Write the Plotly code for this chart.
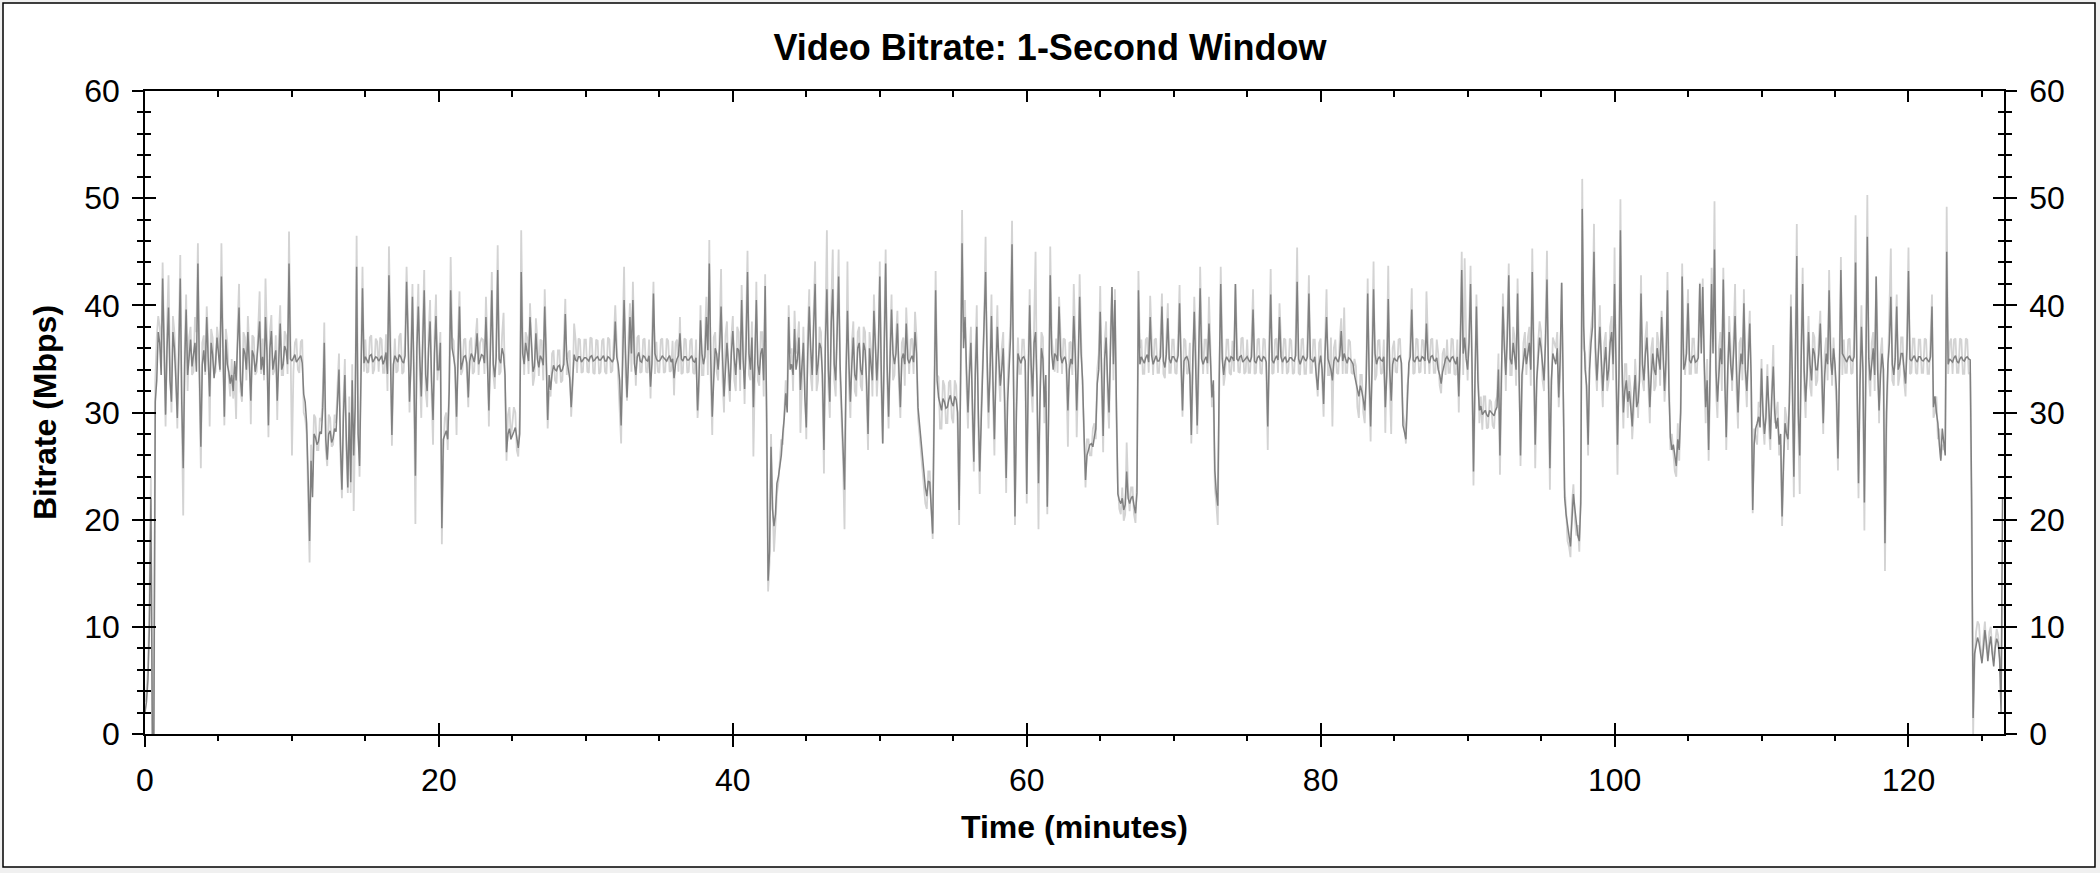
import numpy as np
import plotly.graph_objects as go

# ---------------- data (Mbps) ----------------
# main samples every 0.2 min starting at each chunk start; "mid" samples sit 0.1 min after each main sample
sample_step_min = 0.2
chunk_starts = [0, 10, 20, 30, 40, 50, 60, 70, 80, 90, 100, 110, 120]

dark_m000 = [2, 5, 22, 0, 33, 36.5, 42.5, 29.8, 39.8, 31.0, 36.0, 29.5, 42.5, 24.8, 39.6,
             35.5, 34.3, 36.5, 43.9, 26.8, 35.8, 38.9, 31.5, 35.4, 34.6, 35.2, 42.7, 29.6, 34.5, 32.7,
             32.0, 33.0, 39.8, 31.5, 35.5, 37.5, 31.1, 35.3, 34.8, 38.5, 35.2, 38.9, 28.8, 37.6, 35.0,
             31.1, 38.3, 34.5, 35.8, 43.9]
dark_mid_m000 = [3, 10, 0, 31, 37.5, 33.5, 34.0, 36.0, 33.0, 37.5, 33.0, 35.5, 31.0, 34.5, 33.5,
                 36.8, 35.2, 33.8, 34.0, 34.5, 33.8, 35.0, 36.5, 33.2, 37.0, 34.0, 35.5, 36.8, 33.8, 33.5,
                 34.8, 36.5, 33.0, 36.0, 34.0, 34.5, 35.8, 33.8, 36.5, 34.0, 33.5, 35.5, 36.0, 34.0, 35.8,
                 35.5, 34.0, 36.2, 34.5, 35.0]
light_m000 = [3, 6, 24, 0, 37, 38.0, 44.0, 28.7, 42.8, 30.0, 37.5, 28.5, 44.7, 20.4, 41.0,
              37.0, 33.5, 38.9, 45.8, 24.8, 37.2, 39.9, 28.7, 37.0, 33.8, 36.8, 45.8, 28.8, 36.5, 31.5,
              31.3, 29.4, 42.0, 31.0, 37.0, 39.0, 28.9, 37.0, 33.8, 41.3, 36.9, 42.5, 27.7, 39.1, 33.9,
              29.3, 40.0, 33.5, 37.2, 46.9]
light_mid_m000 = [4, 12, 0, 33, 39, 35.5, 36.0, 38.0, 34.5, 39.0, 34.5, 37.0, 30.0, 36.0, 32.0,
                  38.0, 33.8, 37.5, 33.0, 36.5, 33.5, 36.8, 37.8, 33.6, 38.0, 33.8, 37.0, 37.8, 33.2, 35.0,
                  33.5, 38.0, 32.0, 37.5, 33.0, 36.0, 37.2, 33.5, 37.8, 33.6, 33.0, 37.0, 37.5, 33.5, 37.2,
                  36.8, 33.5, 37.6, 33.6, 36.5]

dark_m010 = [34.8, 35.4, 34.9, 35.3, 31.7, 29.0, 18.0, 22.1, 27.7, 27.3, 28.0, 36.5, 25.6, 28.3, 27.6,
             28.2, 34.0, 22.8, 33.5, 23.0, 23.5, 26.0, 43.6, 25.0, 41.6, 35.2, 34.6, 35.4, 34.9, 35.1,
             35.0, 34.5, 35.6, 42.8, 27.9, 35.3, 34.7, 35.2, 34.6, 42.2, 31.0, 40.8, 24.1, 39.9, 31.5,
             41.4, 32.0, 38.5, 29.3, 39.0]
dark_mid_m010 = [35.1, 34.7, 35.2, 34.6, 31.0, 24.0, 25.5, 28.0, 27.0, 28.2, 30.5, 27.5, 28.0, 27.2, 28.5,
                 31.0, 27.0, 29.5, 27.5, 30.0, 33.0, 30.5, 28.0, 33.5, 34.6, 34.9, 35.3, 34.7, 35.2, 34.8,
                 35.3, 34.9, 33.6, 36.0, 34.5, 35.0, 35.4, 34.8, 35.3, 37.0, 34.5, 33.5, 36.0, 35.0, 36.5,
                 33.5, 36.0, 33.0, 35.5, 34.0]
light_m010 = [26.0, 36.5, 34.0, 36.6, 30.0, 28.0, 16.0, 24.0, 29.5, 26.5, 29.2, 38.4, 25.0, 29.5, 27.0,
              29.0, 35.5, 22.0, 35.0, 22.5, 22.5, 20.8, 46.5, 24.0, 43.6, 36.8, 33.8, 37.2, 34.0, 36.6,
              37.0, 33.7, 37.3, 45.5, 26.9, 36.9, 33.9, 37.4, 33.8, 43.6, 30.0, 42.0, 19.6, 42.0, 29.5,
              43.3, 30.5, 40.5, 27.0, 41.0]
light_mid_m010 = [33.8, 36.9, 33.7, 36.8, 29.5, 22.0, 27.0, 29.8, 26.5, 29.5, 32.0, 26.5, 29.8, 26.8, 29.8,
                  32.5, 26.0, 31.0, 26.5, 31.5, 34.5, 29.0, 30.0, 35.0, 33.8, 33.7, 37.0, 33.6, 36.9, 33.8,
                  36.8, 33.7, 32.0, 37.5, 33.5, 33.7, 37.1, 33.6, 37.0, 38.5, 36.0, 32.5, 37.5, 33.5, 38.0,
                  32.0, 37.5, 31.8, 37.0, 33.0]

dark_m020 = [34.0, 19.2, 28.0, 27.5, 41.4, 35.2, 29.6, 39.9, 34.8, 35.3, 31.4, 35.5, 34.7, 37.4, 34.9,
             35.3, 38.9, 30.2, 41.4, 33.3, 43.3, 34.6, 35.4, 26.3, 28.5, 27.8, 28.6, 26.7, 43.1, 34.5,
             35.5, 38.9, 33.8, 37.4, 34.2, 35.0, 39.9, 29.3, 32.1, 34.4, 33.9, 34.4, 34.0, 39.2, 34.1,
             30.5, 35.4, 34.8, 35.2, 34.9]
dark_mid_m020 = [36.5, 27.5, 28.3, 32.0, 36.0, 34.2, 35.5, 34.0, 35.2, 34.6, 34.8, 35.2, 35.6, 34.5, 35.4,
                 34.6, 34.8, 35.5, 34.5, 35.2, 35.0, 36.0, 33.5, 28.0, 27.5, 28.2, 27.4, 28.0, 35.5, 36.5,
                 34.8, 35.6, 34.3, 35.0, 35.3, 34.4, 35.0, 33.5, 33.6, 34.0, 34.3, 33.8, 34.5, 35.0, 33.2,
                 33.5, 34.9, 35.2, 34.7, 35.1]
light_m020 = [35.5, 17.7, 29.5, 26.5, 44.5, 36.7, 27.9, 41.3, 33.9, 36.9, 30.5, 37.0, 33.8, 38.8, 36.5,
              36.8, 40.8, 28.7, 43.1, 32.2, 45.6, 33.8, 39.3, 25.5, 30.5, 29.5, 30.0, 25.9, 47.0, 33.5,
              37.0, 40.2, 32.5, 38.8, 33.4, 36.7, 41.5, 28.5, 31.5, 35.8, 32.7, 35.8, 33.0, 40.6, 35.5,
              29.6, 38.3, 33.7, 36.8, 33.8]
light_mid_m020 = [37.5, 26.5, 30.0, 33.0, 37.0, 33.6, 37.0, 33.5, 36.8, 33.7, 36.6, 33.6, 37.0, 33.5, 36.9,
                  33.6, 36.5, 37.0, 33.6, 37.0, 33.5, 37.2, 32.5, 29.8, 27.5, 30.5, 26.5, 29.8, 37.0, 37.5,
                  33.6, 37.0, 33.4, 36.8, 36.8, 33.0, 36.5, 32.0, 35.5, 33.0, 35.8, 32.8, 36.5, 33.5, 35.8,
                  32.5, 36.8, 36.9, 33.7, 36.8]

dark_m030 = [35.1, 34.8, 35.3, 34.9, 35.2, 34.9, 35.3, 34.8, 35.1, 34.7, 38.5, 34.5, 28.8, 40.5, 31.4,
             38.9, 40.5, 33.5, 35.6, 34.7, 35.2, 34.8, 32.4, 41.1, 35.0, 34.8, 35.3, 34.9, 35.1, 34.7,
             33.2, 35.0, 37.4, 34.8, 35.2, 34.9, 35.3, 34.7, 30.2, 38.6, 34.5, 38.9, 43.9, 29.6, 36.0,
             34.0, 39.9, 31.5, 36.5, 32.0]
dark_mid_m030 = [34.9, 35.2, 34.8, 35.1, 34.9, 35.1, 34.8, 35.2, 34.9, 35.0, 35.2, 33.0, 34.5, 35.5, 34.8,
                 35.5, 34.6, 35.2, 34.8, 35.3, 34.9, 35.3, 34.6, 35.5, 34.8, 35.0, 35.1, 34.8, 35.3, 35.0,
                 34.5, 35.3, 35.0, 35.2, 34.9, 35.1, 34.8, 35.1, 33.5, 35.5, 35.2, 35.8, 35.0, 33.0, 35.5,
                 36.0, 35.2, 34.0, 34.5, 35.5]
light_m030 = [36.8, 33.7, 36.9, 33.6, 36.7, 33.8, 36.9, 33.6, 36.8, 33.9, 40.0, 33.5, 27.1, 43.6, 31.1,
              40.2, 42.2, 32.5, 37.2, 33.8, 36.9, 33.7, 31.3, 42.2, 36.6, 33.7, 36.9, 33.8, 36.7, 33.9,
              31.6, 36.8, 38.9, 33.7, 36.8, 33.8, 36.9, 33.6, 29.5, 40.0, 33.5, 40.8, 46.1, 27.9, 37.5,
              33.0, 43.4, 30.0, 38.5, 31.0]
light_mid_m030 = [33.8, 37.0, 33.7, 36.8, 33.6, 36.7, 33.8, 37.0, 33.7, 36.8, 36.5, 31.0, 37.0, 33.5, 37.0,
                  33.8, 36.5, 37.0, 33.7, 36.8, 33.8, 36.8, 37.0, 33.6, 33.8, 36.8, 33.7, 36.9, 33.8, 36.7,
                  36.5, 33.8, 33.6, 36.9, 33.7, 36.7, 33.7, 36.8, 32.0, 33.5, 37.0, 33.5, 33.0, 37.0, 33.8,
                  37.5, 33.0, 37.2, 33.0, 37.0]

dark_m040 = [37.6, 33.5, 35.8, 40.5, 32.2, 43.1, 34.0, 30.5, 40.5, 33.5, 36.0, 41.8, 14.3, 26.8, 19.4,
             23.4, 24.9, 28.0, 31.8, 38.9, 34.5, 37.8, 35.0, 32.1, 36.5, 28.6, 39.9, 33.5, 42.0, 34.5,
             36.0, 26.5, 41.5, 31.0, 41.5, 33.0, 42.7, 30.5, 22.8, 39.5, 31.0, 37.0, 33.0, 36.5, 33.5,
             35.8, 28.0, 34.5, 39.5, 33.0]
dark_mid_m040 = [35.0, 36.0, 34.0, 35.0, 36.0, 35.5, 37.0, 35.0, 34.5, 35.5, 33.0, 30.0, 17.0, 21.0, 20.5,
                 24.0, 26.0, 29.5, 30.0, 34.0, 33.5, 34.0, 37.0, 34.0, 31.5, 35.5, 36.0, 38.0, 33.5, 36.5,
                 33.5, 36.5, 34.0, 38.5, 34.5, 37.5, 34.5, 27.0, 33.5, 34.5, 34.5, 33.5, 36.0, 34.0, 36.5,
                 33.0, 36.0, 33.0, 35.5, 36.0]
light_m040 = [39.0, 32.0, 37.5, 41.9, 30.8, 45.1, 33.0, 25.9, 42.2, 32.5, 37.5, 42.9, 13.3, 28.0, 17.0,
              22.4, 26.0, 27.0, 33.0, 40.0, 36.0, 39.5, 36.5, 28.1, 38.0, 27.5, 41.5, 32.0, 44.1, 33.0,
              37.5, 24.3, 47.0, 29.5, 45.2, 31.5, 45.2, 29.0, 19.1, 44.1, 29.5, 38.5, 31.5, 38.0, 32.0,
              37.5, 26.5, 36.0, 41.0, 31.5]
light_mid_m040 = [33.0, 38.0, 32.0, 37.0, 38.0, 33.5, 38.5, 33.5, 33.0, 37.5, 31.5, 28.0, 16.0, 22.0, 19.5,
                  23.5, 27.5, 31.0, 31.5, 35.5, 32.0, 35.5, 38.5, 32.5, 33.0, 37.5, 33.5, 39.5, 32.0, 38.0,
                  32.0, 38.0, 32.5, 40.0, 33.0, 39.0, 33.0, 25.5, 35.5, 32.5, 36.5, 32.0, 37.5, 32.5, 38.0,
                  31.5, 37.5, 31.5, 37.0, 34.5]

dark_m050 = [42.7, 27.1, 43.9, 29.6, 39.6, 34.5, 38.3, 30.5, 35.5, 38.3, 34.6, 35.3, 37.5, 30.5, 27.5,
             24.2, 22.2, 23.5, 18.7, 41.4, 31.4, 30.2, 31.0, 30.5, 31.6, 30.6, 31.2, 20.9, 45.8, 38.9,
             30.0, 36.5, 25.4, 38.0, 24.5, 34.0, 43.1, 30.0, 39.0, 27.5, 38.0, 32.5, 36.0, 23.9, 35.0,
             45.7, 20.3, 35.5, 34.6, 35.2]
dark_mid_m050 = [34.0, 35.5, 34.5, 35.0, 35.5, 35.5, 34.0, 35.0, 34.5, 35.0, 35.0, 34.7, 35.5, 29.0, 25.5,
                 23.0, 23.6, 21.0, 30.0, 33.0, 30.8, 31.3, 30.4, 31.2, 30.9, 31.5, 30.0, 33.0, 36.0, 34.0,
                 33.5, 31.0, 33.5, 30.5, 29.0, 37.0, 35.5, 33.5, 33.0, 33.5, 35.0, 34.0, 31.0, 31.0, 37.0,
                 33.0, 30.0, 35.0, 35.1, 34.8]
light_m050 = [44.1, 27.1, 45.2, 28.5, 41.0, 33.5, 39.5, 29.5, 37.0, 39.8, 33.6, 36.9, 39.4, 29.5, 26.5,
              23.0, 21.0, 24.5, 18.2, 43.2, 33.3, 28.5, 32.5, 29.0, 33.0, 29.0, 32.5, 19.5, 48.9, 40.5,
              28.5, 38.0, 24.5, 40.0, 22.4, 35.5, 46.4, 28.5, 41.0, 26.0, 40.0, 31.0, 37.5, 22.5, 36.5,
              47.9, 19.5, 37.0, 33.6, 36.8]
light_mid_m050 = [32.5, 37.5, 33.0, 36.5, 33.0, 37.0, 32.5, 36.5, 32.5, 36.5, 36.8, 33.6, 37.0, 28.0, 24.5,
                  21.5, 24.5, 20.5, 32.0, 33.5, 28.5, 33.0, 29.0, 32.8, 29.5, 33.0, 28.5, 35.0, 37.5, 32.5,
                  35.0, 29.5, 35.0, 29.0, 30.5, 38.5, 33.5, 35.0, 31.5, 35.0, 33.5, 36.0, 29.5, 33.0, 38.5,
                  31.5, 32.0, 33.6, 36.8, 33.7]

dark_m060 = [22.4, 40.0, 31.5, 37.5, 23.4, 36.0, 30.5, 21.2, 42.8, 34.0, 35.3, 39.9, 34.6, 35.2, 30.2,
             35.0, 39.0, 30.2, 40.8, 33.0, 23.7, 26.5, 27.1, 27.7, 32.7, 39.4, 27.8, 37.0, 30.0, 41.7,
             40.5, 22.4, 21.5, 20.9, 24.5, 21.5, 22.2, 20.6, 41.4, 35.2, 34.6, 35.4, 38.9, 34.5, 35.3,
             34.8, 39.9, 34.2, 38.8, 34.6]
dark_mid_m060 = [33.0, 34.5, 36.5, 32.5, 31.0, 35.0, 33.5, 31.0, 35.5, 35.5, 34.8, 35.3, 35.0, 34.5, 34.0,
                 34.5, 35.5, 34.5, 35.5, 28.0, 26.0, 27.0, 26.8, 28.5, 34.0, 33.5, 35.0, 33.0, 36.0, 34.5,
                 31.0, 21.8, 22.0, 21.4, 22.0, 22.0, 21.3, 22.5, 34.5, 34.9, 35.1, 34.7, 35.3, 34.9, 34.8,
                 35.2, 34.8, 35.4, 35.0, 35.2]
light_m060 = [21.5, 41.5, 30.0, 45.0, 19.1, 37.5, 29.0, 20.5, 45.5, 35.5, 36.9, 40.8, 33.6, 36.8, 26.8,
              36.6, 42.0, 27.7, 42.9, 32.0, 23.0, 27.5, 26.0, 29.0, 34.0, 41.8, 26.3, 38.5, 28.5, 41.7,
              41.5, 23.3, 20.5, 19.9, 27.2, 20.8, 23.0, 19.7, 43.2, 36.8, 33.6, 37.0, 40.9, 33.5, 36.9,
              33.7, 41.1, 33.2, 40.2, 33.7]
light_mid_m060 = [34.5, 32.5, 38.0, 31.0, 32.5, 37.0, 32.0, 32.5, 37.0, 33.8, 33.7, 36.8, 36.9, 33.6, 36.5,
                  33.5, 37.0, 33.5, 37.0, 27.0, 27.5, 26.0, 28.5, 27.5, 35.5, 32.0, 36.5, 31.5, 37.5, 33.0,
                  29.5, 21.0, 23.0, 20.5, 23.0, 23.0, 20.5, 23.5, 36.0, 33.6, 36.8, 33.7, 36.9, 36.8, 33.7,
                  36.9, 33.6, 36.8, 33.7, 36.8]

dark_m070 = [35.2, 34.7, 40.2, 30.2, 35.1, 34.8, 27.9, 39.4, 28.8, 41.6, 34.5, 35.2, 38.3, 31.4, 24.6,
             21.3, 42.0, 33.5, 35.2, 34.7, 35.1, 42.0, 34.8, 35.3, 34.9, 35.2, 34.7, 39.6, 34.6, 35.3,
             34.8, 35.1, 28.7, 41.0, 34.6, 35.3, 38.9, 34.7, 35.2, 34.8, 35.1, 34.8, 42.2, 34.5, 35.3,
             34.8, 41.1, 34.9, 35.2, 32.1]
dark_mid_m070 = [34.9, 35.3, 35.0, 34.8, 35.2, 33.5, 35.0, 34.0, 35.5, 35.0, 34.9, 34.6, 35.0, 33.0, 22.5,
                 33.5, 35.0, 34.8, 34.9, 35.2, 34.8, 35.0, 35.2, 34.7, 35.1, 34.9, 35.2, 34.8, 35.1, 34.9,
                 35.2, 34.7, 35.3, 34.9, 35.0, 34.9, 35.2, 35.0, 34.7, 35.1, 34.9, 35.3, 35.0, 34.9, 35.0,
                 35.2, 35.0, 34.7, 33.5, 34.5]
light_m070 = [36.8, 33.6, 41.9, 29.6, 36.7, 33.7, 27.1, 40.8, 28.0, 43.6, 33.6, 36.8, 40.8, 30.5, 23.0,
              19.5, 43.6, 32.5, 36.8, 33.7, 36.7, 42.0, 33.8, 36.9, 33.6, 36.8, 33.7, 41.5, 33.7, 36.9,
              33.6, 36.8, 26.5, 43.4, 33.7, 36.9, 40.2, 33.6, 36.8, 33.8, 36.7, 33.7, 45.4, 33.5, 36.9,
              33.6, 42.8, 33.7, 36.8, 31.5]
light_mid_m070 = [33.7, 37.0, 33.8, 36.9, 33.6, 36.5, 33.5, 36.5, 33.5, 37.0, 36.8, 33.6, 36.0, 32.0, 21.5,
                  32.0, 36.9, 33.6, 36.8, 33.5, 33.8, 36.9, 33.7, 37.0, 33.8, 33.7, 36.9, 33.6, 36.8, 33.7,
                  36.9, 33.7, 37.0, 33.6, 36.8, 33.7, 36.8, 36.9, 33.6, 36.9, 33.6, 37.0, 33.7, 36.8, 33.6,
                  36.9, 33.7, 36.8, 33.5, 36.5]

dark_m080 = [35.3, 30.8, 38.9, 34.5, 33.0, 35.2, 34.7, 37.6, 35.5, 34.6, 35.0, 34.5, 32.7, 31.5, 32.0,
             30.2, 41.1, 28.7, 41.5, 34.5, 35.2, 34.8, 30.5, 40.6, 31.1, 35.1, 34.8, 35.3, 28.8, 27.5,
             34.6, 39.6, 34.7, 35.2, 34.8, 35.1, 38.3, 34.6, 35.3, 34.8, 34.0, 32.7, 34.5, 35.2, 34.7,
             35.2, 34.5, 31.5, 43.3, 37.0]
dark_mid_m080 = [34.0, 35.5, 35.0, 34.0, 34.8, 34.9, 35.3, 34.8, 35.0, 35.1, 34.8, 33.5, 32.0, 32.5, 31.2,
                 33.0, 33.5, 34.0, 35.5, 35.0, 34.9, 35.2, 33.5, 34.0, 34.5, 34.9, 35.2, 34.6, 28.2, 31.0,
                 35.2, 34.9, 35.1, 34.8, 35.2, 34.8, 35.0, 35.2, 34.9, 35.1, 33.5, 33.8, 35.0, 34.9, 35.1,
                 34.8, 35.2, 36.0, 35.5, 35.0]
light_m080 = [36.9, 29.6, 41.5, 33.5, 28.7, 36.8, 33.6, 38.8, 39.8, 33.7, 36.6, 33.6, 34.3, 29.5, 33.5,
              29.0, 42.5, 27.3, 44.1, 33.5, 36.8, 33.7, 28.1, 43.7, 28.0, 36.7, 33.7, 36.9, 30.0, 27.1,
              33.6, 41.6, 33.7, 36.8, 33.8, 36.7, 41.3, 33.6, 36.9, 33.7, 35.5, 31.8, 36.0, 36.8, 33.7,
              36.8, 33.5, 30.0, 45.0, 44.4]
light_mid_m080 = [33.0, 36.5, 33.5, 37.0, 36.0, 33.7, 36.9, 33.6, 33.7, 36.8, 33.7, 35.0, 30.5, 33.5, 30.0,
                  33.5, 32.0, 36.0, 33.0, 36.7, 33.6, 36.8, 35.0, 32.5, 36.0, 33.8, 36.8, 33.6, 29.0, 32.5,
                  36.8, 33.6, 36.9, 33.7, 36.8, 33.6, 36.7, 36.8, 33.7, 36.8, 32.5, 35.5, 33.5, 33.7, 36.9,
                  33.6, 36.8, 37.0, 33.5, 37.0]

dark_m090 = [34.0, 42.0, 24.5, 39.9, 30.2, 29.8, 30.2, 29.6, 30.0, 29.7, 30.5, 26.0, 39.9, 33.5, 42.8,
             34.5, 35.5, 41.1, 26.0, 35.0, 34.5, 36.5, 43.1, 27.0, 35.0, 36.0, 33.0, 42.4, 24.8, 35.5,
             34.5, 31.4, 42.1, 22.1, 19.5, 17.5, 22.4, 19.4, 18.0, 49.0, 34.0, 27.0, 36.5, 45.0, 33.0,
             38.0, 32.0, 36.1, 34.0, 37.5]
dark_mid_m090 = [36.5, 34.5, 33.0, 33.0, 30.6, 30.0, 29.8, 30.2, 29.9, 30.2, 34.0, 33.5, 36.0, 37.0, 35.0,
                 36.5, 34.0, 34.5, 33.5, 36.0, 35.5, 34.0, 35.0, 33.0, 37.0, 34.5, 36.5, 34.0, 33.0, 35.0,
                 36.0, 35.0, 33.0, 20.5, 18.5, 20.0, 21.0, 18.5, 21.5, 38.0, 32.5, 34.0, 38.0, 36.0, 35.5,
                 35.0, 34.5, 33.0, 36.5, 34.5]
light_m090 = [33.0, 43.7, 23.2, 41.0, 29.0, 28.4, 31.5, 28.6, 31.0, 28.5, 31.5, 24.2, 41.1, 32.0, 43.9,
              33.5, 37.0, 42.5, 25.0, 36.5, 33.5, 38.0, 45.3, 24.8, 36.5, 37.5, 32.0, 45.1, 22.8, 37.0,
              36.0, 30.5, 42.1, 23.0, 18.0, 16.5, 23.3, 18.5, 17.0, 51.8, 35.5, 26.0, 38.0, 47.6, 32.0,
              40.0, 30.5, 37.5, 33.0, 39.0]
light_mid_m090 = [37.5, 33.0, 32.0, 35.0, 31.5, 31.5, 28.5, 31.2, 28.8, 31.0, 35.5, 32.0, 37.5, 38.5, 33.5,
                  38.0, 32.5, 36.0, 32.0, 37.5, 37.0, 32.5, 36.5, 32.0, 38.5, 33.0, 38.0, 32.5, 32.0, 36.5,
                  37.5, 33.5, 32.0, 21.0, 17.5, 21.5, 20.0, 19.5, 22.5, 36.0, 31.0, 36.0, 39.5, 34.5, 37.0,
                  33.5, 36.5, 32.0, 38.0, 33.0]

dark_m100 = [42.0, 27.0, 47.0, 30.0, 33.0, 32.0, 28.7, 33.5, 31.0, 41.1, 33.0, 37.0, 30.5, 35.5, 33.5,
             35.0, 38.9, 32.0, 41.4, 27.7, 27.0, 25.0, 26.5, 42.7, 34.5, 40.2, 34.6, 35.3, 34.8, 42.0,
             41.7, 30.5, 26.5, 42.0, 45.2, 31.0, 36.0, 42.4, 27.7, 37.5, 33.0, 39.0, 30.0, 35.5, 40.2,
             32.0, 38.3, 20.9, 28.5, 29.6]
dark_mid_m100 = [34.5, 33.5, 35.0, 32.0, 31.0, 30.5, 31.5, 30.5, 33.0, 34.5, 35.5, 34.0, 33.5, 34.0, 36.0,
                 34.0, 35.5, 35.0, 32.0, 26.5, 26.0, 27.5, 30.0, 34.0, 35.5, 34.9, 35.2, 34.7, 35.1, 35.5,
                 35.0, 33.0, 34.0, 35.5, 34.0, 33.5, 34.5, 33.0, 34.0, 34.5, 35.5, 34.0, 33.5, 34.5, 34.0,
                 35.0, 33.0, 27.0, 29.0, 28.6]
light_m100 = [45.4, 24.2, 49.9, 28.5, 34.5, 33.5, 27.5, 35.0, 29.5, 42.8, 32.0, 38.5, 29.0, 37.0, 32.5,
              36.5, 39.5, 31.0, 43.1, 26.5, 26.0, 24.0, 25.5, 43.9, 33.5, 41.5, 33.6, 36.9, 33.7, 42.1,
              42.5, 29.0, 25.5, 43.5, 49.7, 29.5, 37.5, 43.5, 26.5, 39.0, 32.0, 42.0, 28.5, 37.0, 41.5,
              30.5, 39.5, 20.6, 27.5, 31.0]
light_mid_m100 = [32.5, 36.0, 33.0, 34.5, 29.5, 32.0, 30.0, 32.5, 34.5, 33.0, 37.0, 32.5, 36.0, 32.0, 37.5,
                  32.5, 37.0, 33.5, 33.5, 28.0, 24.5, 29.0, 31.0, 35.5, 37.0, 33.6, 36.9, 33.7, 36.8, 37.0,
                  33.5, 35.0, 32.5, 37.0, 32.0, 36.0, 32.0, 36.5, 32.5, 36.0, 37.0, 32.0, 36.5, 33.0, 33.5,
                  36.5, 32.0, 28.5, 27.0, 30.5]

dark_m110 = [34.1, 28.0, 33.4, 27.5, 34.3, 28.5, 27.0, 20.3, 29.0, 27.5, 39.9, 24.0, 44.6, 26.0, 42.0,
             31.0, 37.5, 33.0, 35.5, 34.0, 38.3, 29.0, 35.5, 41.4, 33.5, 34.5, 25.7, 43.3, 35.2, 34.7,
             35.3, 34.8, 44.0, 23.4, 38.0, 21.6, 46.4, 33.0, 36.0, 42.7, 30.2, 35.5, 17.8, 34.5, 40.8,
             33.5, 39.9, 34.5, 35.5, 32.7]
dark_mid_m110 = [30.0, 29.5, 30.5, 31.5, 30.0, 29.5, 28.0, 25.5, 28.0, 31.0, 33.0, 34.0, 30.0, 35.0, 34.0,
                 33.5, 34.5, 36.0, 34.0, 35.5, 34.0, 33.5, 34.5, 35.0, 36.0, 32.0, 33.5, 35.5, 34.9, 35.1,
                 34.9, 35.2, 33.0, 32.5, 34.0, 34.0, 35.0, 34.5, 33.5, 34.0, 33.5, 34.0, 30.0, 36.5, 34.5,
                 35.0, 34.0, 35.5, 34.0, 36.0]
light_m110 = [35.0, 27.0, 34.5, 26.5, 36.3, 30.0, 26.0, 19.4, 30.5, 26.5, 41.0, 22.1, 47.6, 22.4, 43.5,
              29.5, 39.0, 31.5, 37.0, 33.0, 39.5, 28.0, 37.0, 43.3, 32.5, 33.5, 24.6, 44.5, 36.8, 33.7,
              36.9, 33.7, 48.4, 22.0, 40.0, 19.0, 50.3, 31.5, 37.5, 42.7, 29.0, 37.0, 15.2, 33.5, 45.3,
              32.5, 41.0, 33.5, 37.0, 31.5]
light_mid_m110 = [29.0, 31.0, 28.5, 32.5, 29.0, 31.0, 27.0, 24.5, 29.5, 32.5, 31.5, 35.5, 29.0, 36.5, 32.5,
                  35.5, 32.5, 37.5, 32.5, 37.0, 32.5, 35.5, 33.0, 36.5, 37.0, 30.5, 35.0, 33.5, 33.7, 36.8,
                  33.6, 36.9, 32.0, 34.5, 32.5, 36.0, 33.5, 36.5, 32.0, 36.5, 35.5, 32.5, 28.0, 38.0, 33.0,
                  37.0, 32.5, 37.0, 33.0, 37.5]

dark_m120 = [43.2, 34.8, 35.3, 34.7, 35.2, 34.8, 35.1, 34.7, 39.9, 31.5, 29.0, 25.5, 27.0, 45.0, 35.0,
             34.7, 35.3, 34.6, 35.2, 34.8, 35.2, 34.9, 1.5, 8.5, 8.5, 6.6, 9.7, 6.8, 9.1, 6.3,
             8.9, 7.0, 22.0]
dark_mid_m120 = [35.0, 35.1, 34.9, 35.2, 34.9, 35.0, 34.9, 35.2, 30.5, 30.0, 27.0, 28.5, 26.0, 34.5, 34.8,
                 35.1, 34.8, 35.0, 34.9, 35.1, 35.0, 22.0, 7.5, 9.0, 7.5, 8.0, 8.5, 8.2, 7.5, 8.0,
                 8.5, 2.0]
light_m120 = [45.4, 33.7, 36.9, 33.6, 36.8, 33.7, 36.8, 33.6, 41.0, 30.0, 27.5, 25.7, 26.5, 49.2, 36.5,
              33.6, 36.9, 33.7, 36.8, 33.6, 36.8, 33.7, 0.0, 9.5, 10.2, 7.0, 10.5, 7.5, 10.0, 6.8,
              9.8, 7.5, 12.0]
light_mid_m120 = [33.6, 36.9, 33.7, 36.8, 33.7, 36.9, 33.6, 36.8, 29.5, 31.5, 28.5, 27.0, 27.5, 33.6, 36.9,
                  36.8, 33.7, 36.9, 33.6, 36.9, 33.6, 18.0, 7.0, 10.5, 8.0, 9.0, 8.0, 9.5, 7.8, 8.5,
                  9.2, 5.0]

dark_chunks = [dark_m000, dark_m010, dark_m020, dark_m030, dark_m040, dark_m050, dark_m060,
               dark_m070, dark_m080, dark_m090, dark_m100, dark_m110, dark_m120]
dark_mid_chunks = [dark_mid_m000, dark_mid_m010, dark_mid_m020, dark_mid_m030, dark_mid_m040,
                   dark_mid_m050, dark_mid_m060, dark_mid_m070, dark_mid_m080, dark_mid_m090,
                   dark_mid_m100, dark_mid_m110, dark_mid_m120]
light_chunks = [light_m000, light_m010, light_m020, light_m030, light_m040, light_m050, light_m060,
                light_m070, light_m080, light_m090, light_m100, light_m110, light_m120]
light_mid_chunks = [light_mid_m000, light_mid_m010, light_mid_m020, light_mid_m030, light_mid_m040,
                    light_mid_m050, light_mid_m060, light_mid_m070, light_mid_m080, light_mid_m090,
                    light_mid_m100, light_mid_m110, light_mid_m120]

x_ticks_major = [0, 20, 40, 60, 80, 100, 120]
y_ticks_major = [0, 10, 20, 30, 40, 50, 60]
x_range = [0, 126.5]
y_range = [0, 60]


def build(main_chunks, mid_chunks):
    pts = []
    for start, main, mid in zip(chunk_starts, main_chunks, mid_chunks):
        for i, v in enumerate(main):
            pts.append((round(start + sample_step_min * i, 3), v))
        for i, v in enumerate(mid):
            pts.append((round(start + sample_step_min * i + sample_step_min / 2, 3), v))
    pts.sort(key=lambda p: p[0])
    return [p[0] for p in pts], [p[1] for p in pts]


tx_d, vy_d = build(dark_chunks, dark_mid_chunks)
tx_l, vy_l = build(light_chunks, light_mid_chunks)

# ---------------- figure ----------------
W, H = 2100, 873
ML, MR, MT, MB = 145, 96, 91, 139
PW, PH = W - ML - MR, H - MT - MB
FONT = "Liberation Sans, Arial, Helvetica, sans-serif"

fig = go.Figure()
fig.add_trace(go.Scatter(x=tx_l, y=vy_l, mode="lines", line=dict(color="#d3d3d3", width=1.8),
                         name="Peak", hoverinfo="skip"))
fig.add_trace(go.Scatter(x=tx_d, y=vy_d, mode="lines", line=dict(color="#808080", width=1.5),
                         name="Bitrate"))
# empty helper traces so the overlay tick axes exist
for xa, ya in [("x2", "y2"), ("x3", "y3"), ("x3", "y4")]:
    fig.add_trace(go.Scatter(x=[], y=[], xaxis=xa, yaxis=ya, showlegend=False, hoverinfo="skip"))

tk = dict(tickcolor="black", tickwidth=1.5, showgrid=False, zeroline=False)
mn_out_x = dict(ticks="outside", ticklen=5, tick0=0, dtick=5, tickcolor="black", tickwidth=1.5, showgrid=False)
mn_in_x = dict(ticks="inside", ticklen=6, tick0=0, dtick=5, tickcolor="black", tickwidth=1.5, showgrid=False)
mn_out_y = dict(ticks="outside", ticklen=6, tick0=0, dtick=2, tickcolor="black", tickwidth=1.5, showgrid=False)
mn_in_y = dict(ticks="inside", ticklen=6, tick0=0, dtick=2, tickcolor="black", tickwidth=1.5, showgrid=False)

fig.update_layout(
    width=W, height=H,
    margin=dict(l=ML, r=MR, t=MT, b=MB, pad=0),
    paper_bgcolor="#f0f0f0", plot_bgcolor="white",
    showlegend=False,
    font=dict(family=FONT, color="black", size=32),
    title=dict(text="Video Bitrate: 1-Second Window", x=0.5, xref="container", xanchor="center",
               y=1 - 47 / H, yref="container", yanchor="middle",
               font=dict(family=FONT, size=36, weight="bold", color="black")),
    xaxis=dict(range=x_range, tickvals=x_ticks_major, ticks="outside", ticklen=11,
               showline=True, linecolor="black", linewidth=1.5, minor=mn_out_x,
               tickfont=dict(size=32), ticklabelstandoff=6,
               title=dict(text="Time (minutes)", font=dict(size=32, weight="bold"), standoff=18), **tk),
    xaxis2=dict(overlaying="x", anchor="y", side="bottom", range=x_range, tickvals=x_ticks_major,
                ticks="inside", ticklen=11, showticklabels=False, showline=False, **tk),
    xaxis3=dict(overlaying="x", anchor="y", side="top", range=x_range, tickvals=x_ticks_major,
                ticks="inside", ticklen=11, showticklabels=False, showline=True, linecolor="black",
                linewidth=1.5, minor=mn_in_x, **tk),
    yaxis=dict(range=y_range, tickvals=y_ticks_major, ticks="outside", ticklen=11,
               showline=True, linecolor="black", linewidth=1.5, minor=mn_out_y,
               tickfont=dict(size=32), ticklabelstandoff=6,
               title=dict(text="Bitrate (Mbps)", font=dict(size=32, weight="bold"), standoff=18), **tk),
    yaxis2=dict(overlaying="y", anchor="x", side="left", range=y_range, tickvals=y_ticks_major,
                ticks="inside", ticklen=11, showticklabels=False, showline=False, minor=mn_in_y, **tk),
    yaxis3=dict(overlaying="y", anchor="x", side="right", range=y_range, tickvals=y_ticks_major,
                ticks="outside", ticklen=11, showticklabels=True, tickfont=dict(size=32), ticklabelstandoff=6,
                showline=True, linecolor="black", linewidth=1.5, minor=mn_out_y, **tk),
    yaxis4=dict(overlaying="y", anchor="x", side="right", range=y_range, tickvals=y_ticks_major,
                ticks="inside", ticklen=11, showticklabels=False, showline=False, minor=mn_in_y, **tk),
    shapes=[dict(type="rect", xref="paper", yref="paper", layer="below",
                 x0=(3 - ML) / PW, x1=(2095 - ML) / PW,
                 y0=-(867 - (H - MB)) / PH, y1=((H - MB) - 3) / PH,
                 fillcolor="white", line=dict(color="black", width=1.5))],
)

fig.write_html("out.html", config={"displayModeBar": False},
               post_script="document.body.style.margin='0';document.body.style.overflow='hidden';")
